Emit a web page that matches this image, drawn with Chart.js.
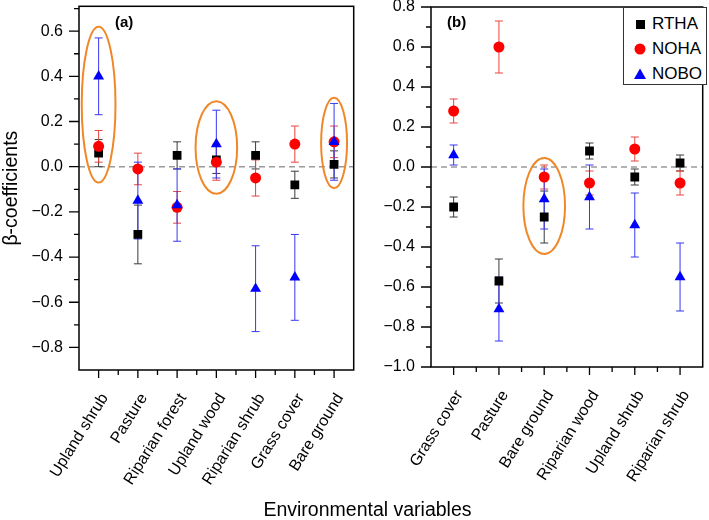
<!DOCTYPE html>
<html lang="en">
<head>
  <meta charset="UTF-8">
  <title>Beta coefficients</title>
  <script src="https://cdn.jsdelivr.net/npm/chart.js"></script>
  <style>
    body { margin: 0; background: #fff; font-family: "Liberation Sans", Arial, sans-serif; }
    #wrap { position: relative; width: 709px; height: 520px; overflow: hidden; }
    canvas { position: absolute; top: 0; }
    #chart-a { left: 0; }
    #chart-b { left: 358px; }
    .tag { position: absolute; font-weight: bold; font-size: 15px; }
    #legend { position: absolute; left: 623px; top: 7px; width: 84px; height: 78px;
              border: 1px solid #333; background: #fff; box-sizing: border-box; }
    #legend .row { position: absolute; left: 10px; font-size: 17px; line-height: 17px; }
    #legend svg { vertical-align: -1px; margin-right: 6px; }
    #xtitle { position: absolute; left: 13px; width: 709px; top: 498px; text-align: center; font-size: 19.5px; }
  </style>
</head>
<body>
<div id="wrap">
  <canvas id="chart-a" width="360" height="520"></canvas>
  <canvas id="chart-b" width="351" height="520"></canvas>
  <div class="tag" style="left:115px;top:13px">(a)</div>
  <div class="tag" style="left:447px;top:13px">(b)</div>
  <div id="legend">
    <div class="row" style="top:7px"><svg width="12" height="12"><rect x="2" y="2" width="9" height="9" fill="#000"/></svg>RTHA</div>
    <div class="row" style="top:32px"><svg width="12" height="12"><circle cx="6" cy="6" r="5.5" fill="#f00"/></svg>NOHA</div>
    <div class="row" style="top:57px"><svg width="12" height="12"><polygon points="6,0.5 12,11 0,11" fill="#00f"/></svg>NOBO</div>
  </div>
  <div id="xtitle">Environmental variables</div>
</div>

<script>
  // panel (a)
  const catsA = ['Upland shrub', 'Pasture', 'Riparian forest', 'Upland wood', 'Riparian shrub', 'Grass cover', 'Bare ground'];
  const rthaA    = [0.06, -0.30, 0.05, 0.03, 0.05, -0.08, 0.01];
  const rthaErrA = [0.06, 0.13, 0.06, 0.06, 0.06, 0.06, 0.06];
  const nohaA    = [0.09, -0.01, -0.18, 0.02, -0.05, 0.10, 0.11];
  const nohaErrA = [0.07, 0.07, 0.07, 0.08, 0.08, 0.08, 0.07];
  const noboA    = [0.40, -0.15, -0.17, 0.10, -0.54, -0.49, 0.11];
  const noboErrA = [0.17, 0.17, 0.16, 0.15, 0.19, 0.19, 0.17];
  const yTicksA  = [-0.8, -0.6, -0.4, -0.2, 0, 0.2, 0.4, 0.6];
  // highlighted groups: category index, centre value, half width (categories), half height (value)
  const ringCatA = [0, 3, 6];
  const ringYA   = [0.275, 0.085, 0.105];
  const ringRxA  = [0.43, 0.53, 0.33];
  const ringRyA  = [0.345, 0.205, 0.20];

  // panel (b)
  const catsB = ['Grass cover', 'Pasture', 'Bare ground', 'Riparian wood', 'Upland shrub', 'Riparian shrub'];
  const rthaB    = [-0.20, -0.57, -0.25, 0.08, -0.05, 0.02];
  const rthaErrB = [0.05, 0.11, 0.13, 0.04, 0.04, 0.04];
  const nohaB    = [0.28, 0.60, -0.05, -0.08, 0.09, -0.08];
  const nohaErrB = [0.06, 0.13, 0.06, 0.06, 0.06, 0.06];
  const noboB    = [0.06, -0.71, -0.16, -0.15, -0.29, -0.55];
  const noboErrB = [0.05, 0.16, 0.15, 0.16, 0.16, 0.17];
  const yTicksB  = [-1.0, -0.8, -0.6, -0.4, -0.2, 0, 0.2, 0.4, 0.6, 0.8];
  const ringCatB = [2];
  const ringYB   = [-0.195];
  const ringRxB  = [0.46];
  const ringRyB  = [0.24];

  const fam = '"Liberation Sans", Arial, sans-serif';
  const minus = v => (v < -1e-9 ? '\u2212' : '') + Math.abs(v).toFixed(1);
  // keep the plot box exactly where the layout puts it
  const noPad = s => { s.paddingTop = 0; s.paddingBottom = 0; s.paddingLeft = 0; s.paddingRight = 0; };

  // frame, zero line, tick marks, error bars and rings
  const decor = {
    id: 'decor',
    beforeDatasetsDraw(chart) {
      const { ctx, chartArea: a, scales: { x, y } } = chart;
      ctx.save();
      // dashed zero line
      ctx.strokeStyle = '#9a9a9a';
      ctx.lineWidth = 1.5;
      ctx.setLineDash([6, 4]);
      ctx.beginPath();
      ctx.moveTo(a.left, y.getPixelForValue(0));
      ctx.lineTo(a.right, y.getPixelForValue(0));
      ctx.stroke();
      ctx.setLineDash([]);
      // error bars
      chart.data.datasets.forEach(ds => {
        ctx.strokeStyle = ds.barColor;
        ctx.lineWidth = 1;
        ds.data.forEach((p, i) => {
          const px = x.getPixelForValue(p.x);
          const top = y.getPixelForValue(p.y + ds.err[i]);
          const bot = y.getPixelForValue(p.y - ds.err[i]);
          ctx.beginPath();
          ctx.moveTo(px, top); ctx.lineTo(px, bot);
          ctx.moveTo(px - 4, top); ctx.lineTo(px + 4, top);
          ctx.moveTo(px - 4, bot); ctx.lineTo(px + 4, bot);
          ctx.stroke();
        });
      });
      ctx.restore();
    },
    afterDatasetsDraw(chart, args, opts) {
      const { ctx, chartArea: a, scales: { x, y } } = chart;
      ctx.save();
      // orange rings
      ctx.strokeStyle = '#f0882a';
      ctx.lineWidth = 2;
      opts.ringCat.forEach((c, i) => {
        const cx = x.getPixelForValue(c);
        const cy = y.getPixelForValue(opts.ringY[i]);
        const rx = x.getPixelForValue(c + opts.ringRx[i]) - cx;
        const ry = cy - y.getPixelForValue(opts.ringY[i] + opts.ringRy[i]);
        ctx.beginPath();
        ctx.ellipse(cx, cy, rx, ry, 0, 0, Math.PI * 2);
        ctx.stroke();
      });
      // frame
      ctx.strokeStyle = '#000';
      ctx.lineWidth = 1.5;
      ctx.strokeRect(a.left, a.top, a.right - a.left, a.bottom - a.top);
      // tick marks
      ctx.lineWidth = 1.3;
      ctx.beginPath();
      opts.yTicks.forEach(v => {
        const py = y.getPixelForValue(v);
        ctx.moveTo(a.left, py); ctx.lineTo(a.left - 10, py);
        [v - 0.1, v + 0.1].forEach(m => {
          if (m > y.min && m < y.max) {
            const pm = y.getPixelForValue(m);
            ctx.moveTo(a.left, pm); ctx.lineTo(a.left - 5, pm);
          }
        });
      });
      for (let i = 0; i < opts.n; i++) {
        const px = x.getPixelForValue(i);
        ctx.moveTo(px, a.bottom); ctx.lineTo(px, a.bottom + 8);
        if (i > 0) {
          const pm = x.getPixelForValue(i - 0.5);
          ctx.moveTo(pm, a.bottom); ctx.lineTo(pm, a.bottom + 5);
        }
      }
      ctx.stroke();
      ctx.restore();
    }
  };

  function makePanel(canvasId, cats, rtha, rthaErr, noha, nohaErr, nobo, noboErr, yTicks, yMin, yMax, rings, layout) {
    const pts = vals => vals.map((v, i) => ({ x: i, y: v }));
    const ctx = document.getElementById(canvasId).getContext('2d');
    return new Chart(ctx, {
      type: 'scatter',
      data: {
        datasets: [
          { label: 'RTHA', data: pts(rtha), err: rthaErr, barColor: '#3a3a3a', order: 3,
            pointStyle: 'rect', pointRadius: 6.2, backgroundColor: '#000', borderColor: '#000', borderWidth: 0 },
          { label: 'NOHA', data: pts(noha), err: nohaErr, barColor: '#e8443f', order: 2,
            pointStyle: 'circle', pointRadius: 5.5, backgroundColor: '#ff0000', borderColor: '#ff0000', borderWidth: 0 },
          { label: 'NOBO', data: pts(nobo), err: noboErr, barColor: '#3838f0', order: 1,
            pointStyle: 'triangle', pointRadius: 6.3, backgroundColor: '#0000ff', borderColor: '#0000ff', borderWidth: 0 }
        ]
      },
      options: {
        responsive: false,
        animation: false,
        devicePixelRatio: 1,
        layout: { padding: { top: layout.top, right: layout.right, left: 0, bottom: 0 } },
        plugins: {
          legend: { display: false },
          tooltip: { enabled: false },
          decor: { ringCat: rings[0], ringY: rings[1], ringRx: rings[2], ringRy: rings[3], yTicks, n: cats.length }
        },
        scales: {
          x: {
            type: 'linear',
            min: -0.5,
            max: cats.length - 0.5,
            afterBuildTicks: s => { s.ticks = cats.map((c, i) => ({ value: i })); },
            afterFit: s => { s.height = layout.xHeight; noPad(s); },
            grid: { display: false, drawTicks: false },
            border: { display: false },
            ticks: {
              autoSkip: false, minRotation: 58, maxRotation: 58, padding: 20, labelOffset: 6,
              color: '#000', font: { family: fam, size: 16 },
              callback: (v, i) => cats[i]
            }
          },
          y: {
            min: yMin,
            max: yMax,
            afterBuildTicks: s => { s.ticks = yTicks.map(v => ({ value: v })); },
            afterFit: s => { s.width = layout.yWidth; noPad(s); },
            grid: { display: false, drawTicks: false },
            border: { display: false },
            ticks: { padding: 16, color: '#000', font: { family: fam, size: 16 }, callback: v => minus(v) },
            title: {
              display: layout.yTitle, text: 'β-coefficients', color: '#000', padding: 0,
              font: { family: fam, size: 19.5 }
            }
          }
        }
      },
      plugins: [decor]
    });
  }

  makePanel('chart-a', catsA, rthaA, rthaErrA, nohaA, nohaErrA, noboA, noboErrA, yTicksA, -0.9, 0.71,
    [ringCatA, ringYA, ringRxA, ringRyA],
    { top: 5, right: 5, xHeight: 150, yWidth: 79, yTitle: true });
  makePanel('chart-b', catsB, rthaB, rthaErrB, nohaB, nohaErrB, noboB, noboErrB, yTicksB, -1.0, 0.8,
    [ringCatB, ringYB, ringRxB, ringRyB],
    { top: 7, right: 1, xHeight: 153, yWidth: 73, yTitle: false });
</script>
</body>
</html>
